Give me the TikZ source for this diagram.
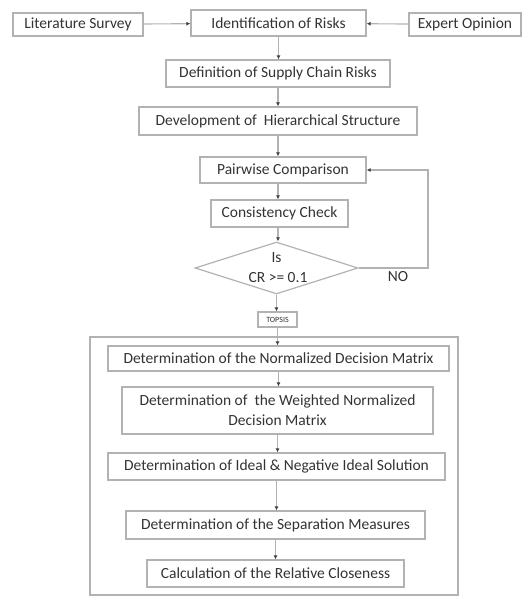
\documentclass[tikz,border=0pt]{standalone}
\usepackage{fontspec}
\setmainfont{Carlito}
\usetikzlibrary{arrows.meta,shapes.geometric}

\begin{document}
\begin{tikzpicture}[x=1pt, y=-1pt, >={Latex[length=4pt,width=4pt,black!75]},
  every node/.style={text=black!80, font=\fontsize{15.5}{20}\selectfont},
  stage/.style={draw=gray!60, line width=1.2pt, inner sep=0pt, align=center},
  link/.style={draw=gray!60, line width=1.1pt, ->}]
  \useasboundingbox (0,0) rectangle (525,597);
  % AHP part
  \node[stage, minimum width=130, minimum height=23] (lit) at (78,24.5) {Literature Survey};
  \node[stage, minimum width=175, minimum height=26] (ident) at (278.5,23) {Identification of Risks};
  \node[stage, minimum width=112, minimum height=23] (expert) at (465,24.5) {Expert Opinion};
  \node[stage, minimum width=224, minimum height=27] (defn) at (278,73.5) {Definition of Supply Chain Risks};
  \node[stage, minimum width=278, minimum height=28] (dev) at (278,121) {Development of \ Hierarchical Structure};
  \node[stage, minimum width=166, minimum height=26] (pair) at (283,170) {Pairwise Comparison};
  \node[stage, minimum width=137, minimum height=27] (cons) at (279.5,213.5) {Consistency Check};
  \node[stage, diamond, aspect=3.13, minimum width=163, minimum height=52] (check) at (276.5,268) {};
  \node at (276.5,258) {Is};
  \node at (278,278) {CR >= 0.1};
  \node[stage, minimum width=39, minimum height=15, font=\fontsize{8}{9}\selectfont] (topsis) at (277.5,319.5) {TOPSIS};
  \coordinate (loop) at (428,268);
  \node at (398,277) {NO};
  % TOPSIS part
  \draw[gray!60, line width=1.2pt] (90,337) rectangle (458,595);
  \node[stage, minimum width=341, minimum height=25] (norm) at (278.5,358.5) {Determination of the Normalized Decision Matrix};
  \node[stage, minimum width=311, minimum height=47] (weight) at (277.5,410.5) {Determination of \ the Weighted Normalized\\Decision Matrix};
  \node[stage, minimum width=337, minimum height=27] (ideal) at (276.5,466.5) {Determination of Ideal \& Negative Ideal Solution};
  \node[stage, minimum width=299, minimum height=28] (sep) at (275.5,525) {Determination of the Separation Measures};
  \node[stage, minimum width=257, minimum height=27] (calc) at (275.5,573.5) {Calculation of the Relative Closeness};

  \draw[link] (lit) -- (ident);
  \draw[link] (expert) -- (ident);
  \draw[link] (ident.south) -- (ident.south |- defn.north);
  \draw[link] (defn.south) -- (defn.south |- dev.north);
  \draw[link] (dev.south) -- (dev.south |- pair.north);
  \draw[link] (dev.south |- pair.south) -- (dev.south |- cons.north);
  \draw[link] (dev.south |- cons.south) -- (dev.south |- check.north);
  \draw[link] (check.east) -- (loop) |- (pair.east);
  \draw[link] (check.south) -- (check.south |- topsis.north);
  \draw[link] (topsis.south) -- (topsis.south |- norm.north);
  \draw[link] (norm.south) -- (norm.south |- weight.north);
  \draw[link] (weight.south) -- (weight.south |- ideal.north);
  \draw[link] (ideal.south) -- (ideal.south |- sep.north);
  \draw[link] (sep.south) -- (sep.south |- calc.north);
\end{tikzpicture}
\end{document}
